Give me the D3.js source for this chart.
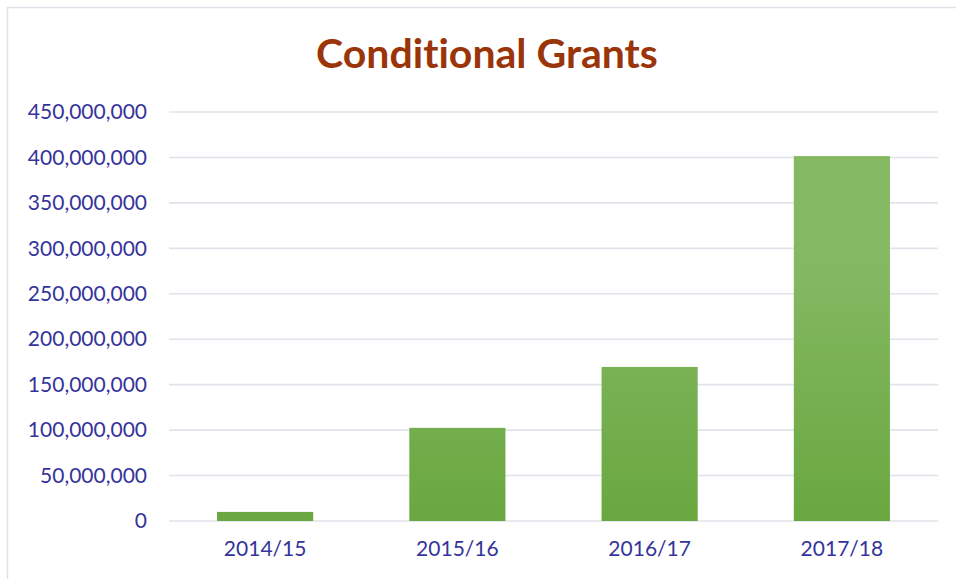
<!DOCTYPE html>
<html>
<head>
<meta charset="utf-8">
<script src="https://cdn.jsdelivr.net/npm/d3@7"></script>
<style>
  body { margin: 0; background: #fff; }
  svg text { font-variant-ligatures: none; }
  .axis text { font-family: Lato, "Open Sans", sans-serif; font-size: 21px; fill: #35349b; }
</style>
</head>
<body>
<div id="chart"></div>
<script>
// data
const categories = ["2014/15", "2015/16", "2016/17", "2017/18"];
const values = [10000000, 102500000, 169500000, 401500000];
const yTicks = [0, 50000000, 100000000, 150000000, 200000000, 250000000, 300000000, 350000000, 400000000, 450000000];

const W = 956, H = 579;
const margin = {top: 112, right: 18, bottom: 58, left: 169};
const width = W - margin.left - margin.right;
const height = H - margin.top - margin.bottom;

const svg = d3.select("#chart").append("svg")
    .attr("width", W)
    .attr("height", H);

// chart frame
svg.append("rect")
    .attr("x", 7.5).attr("y", 7.5)
    .attr("width", W + 10).attr("height", H + 10)
    .attr("fill", "#fff")
    .attr("stroke", "#dde1e8")
    .attr("stroke-width", 1.5);

const defs = svg.append("defs");
const grad = defs.append("linearGradient")
    .attr("id", "barGrad")
    .attr("gradientUnits", "userSpaceOnUse")
    .attr("x1", 0).attr("y1", margin.top + 40)
    .attr("x2", 0).attr("y2", margin.top + height);
grad.append("stop").attr("offset", "0%").attr("stop-color", "#84b962");
grad.append("stop").attr("offset", "100%").attr("stop-color", "#5e9f31");

svg.append("text")
    .attr("x", 487)
    .attr("y", 68)
    .attr("text-anchor", "middle")
    .attr("font-family", "Lato, 'Open Sans', sans-serif")
    .attr("font-weight", "bold")
    .attr("font-size", 41)
    .attr("fill", "#9a3409")
    .text("Conditional Grants");

const g = svg.append("g")
    .attr("transform", `translate(${margin.left},${margin.top})`);

const x = d3.scaleBand()
    .domain(categories)
    .range([0, width])
    .paddingInner(0.5)
    .paddingOuter(0.25);

const y = d3.scaleLinear()
    .domain([0, 450000000])
    .range([height, 0]);

// gridlines
g.append("g")
    .selectAll("line")
    .data(yTicks)
    .join("line")
    .attr("x1", 0).attr("x2", width)
    .attr("y1", d => y(d)).attr("y2", d => y(d))
    .attr("stroke", "#dfe3ea")
    .attr("stroke-width", 1.6);

// bars
g.append("g")
    .selectAll("rect")
    .data(values)
    .join("rect")
    .attr("x", (d, i) => x(categories[i]))
    .attr("y", d => y(d))
    .attr("width", x.bandwidth())
    .attr("height", d => height - y(d))
    .attr("fill", "url(#barGrad)");

const yAxis = d3.axisLeft(y)
    .tickValues(yTicks)
    .tickFormat(d3.format(","))
    .tickSize(0)
    .tickPadding(22);

g.append("g")
    .attr("class", "y-axis axis")
    .call(yAxis)
    .call(s => s.select(".domain").remove());

const xAxis = d3.axisBottom(x)
    .tickSize(0)
    .tickPadding(20);

g.append("g")
    .attr("class", "x-axis axis")
    .attr("transform", `translate(0,${height})`)
    .call(xAxis)
    .call(s => s.select(".domain").remove());
</script>
</body>
</html>
